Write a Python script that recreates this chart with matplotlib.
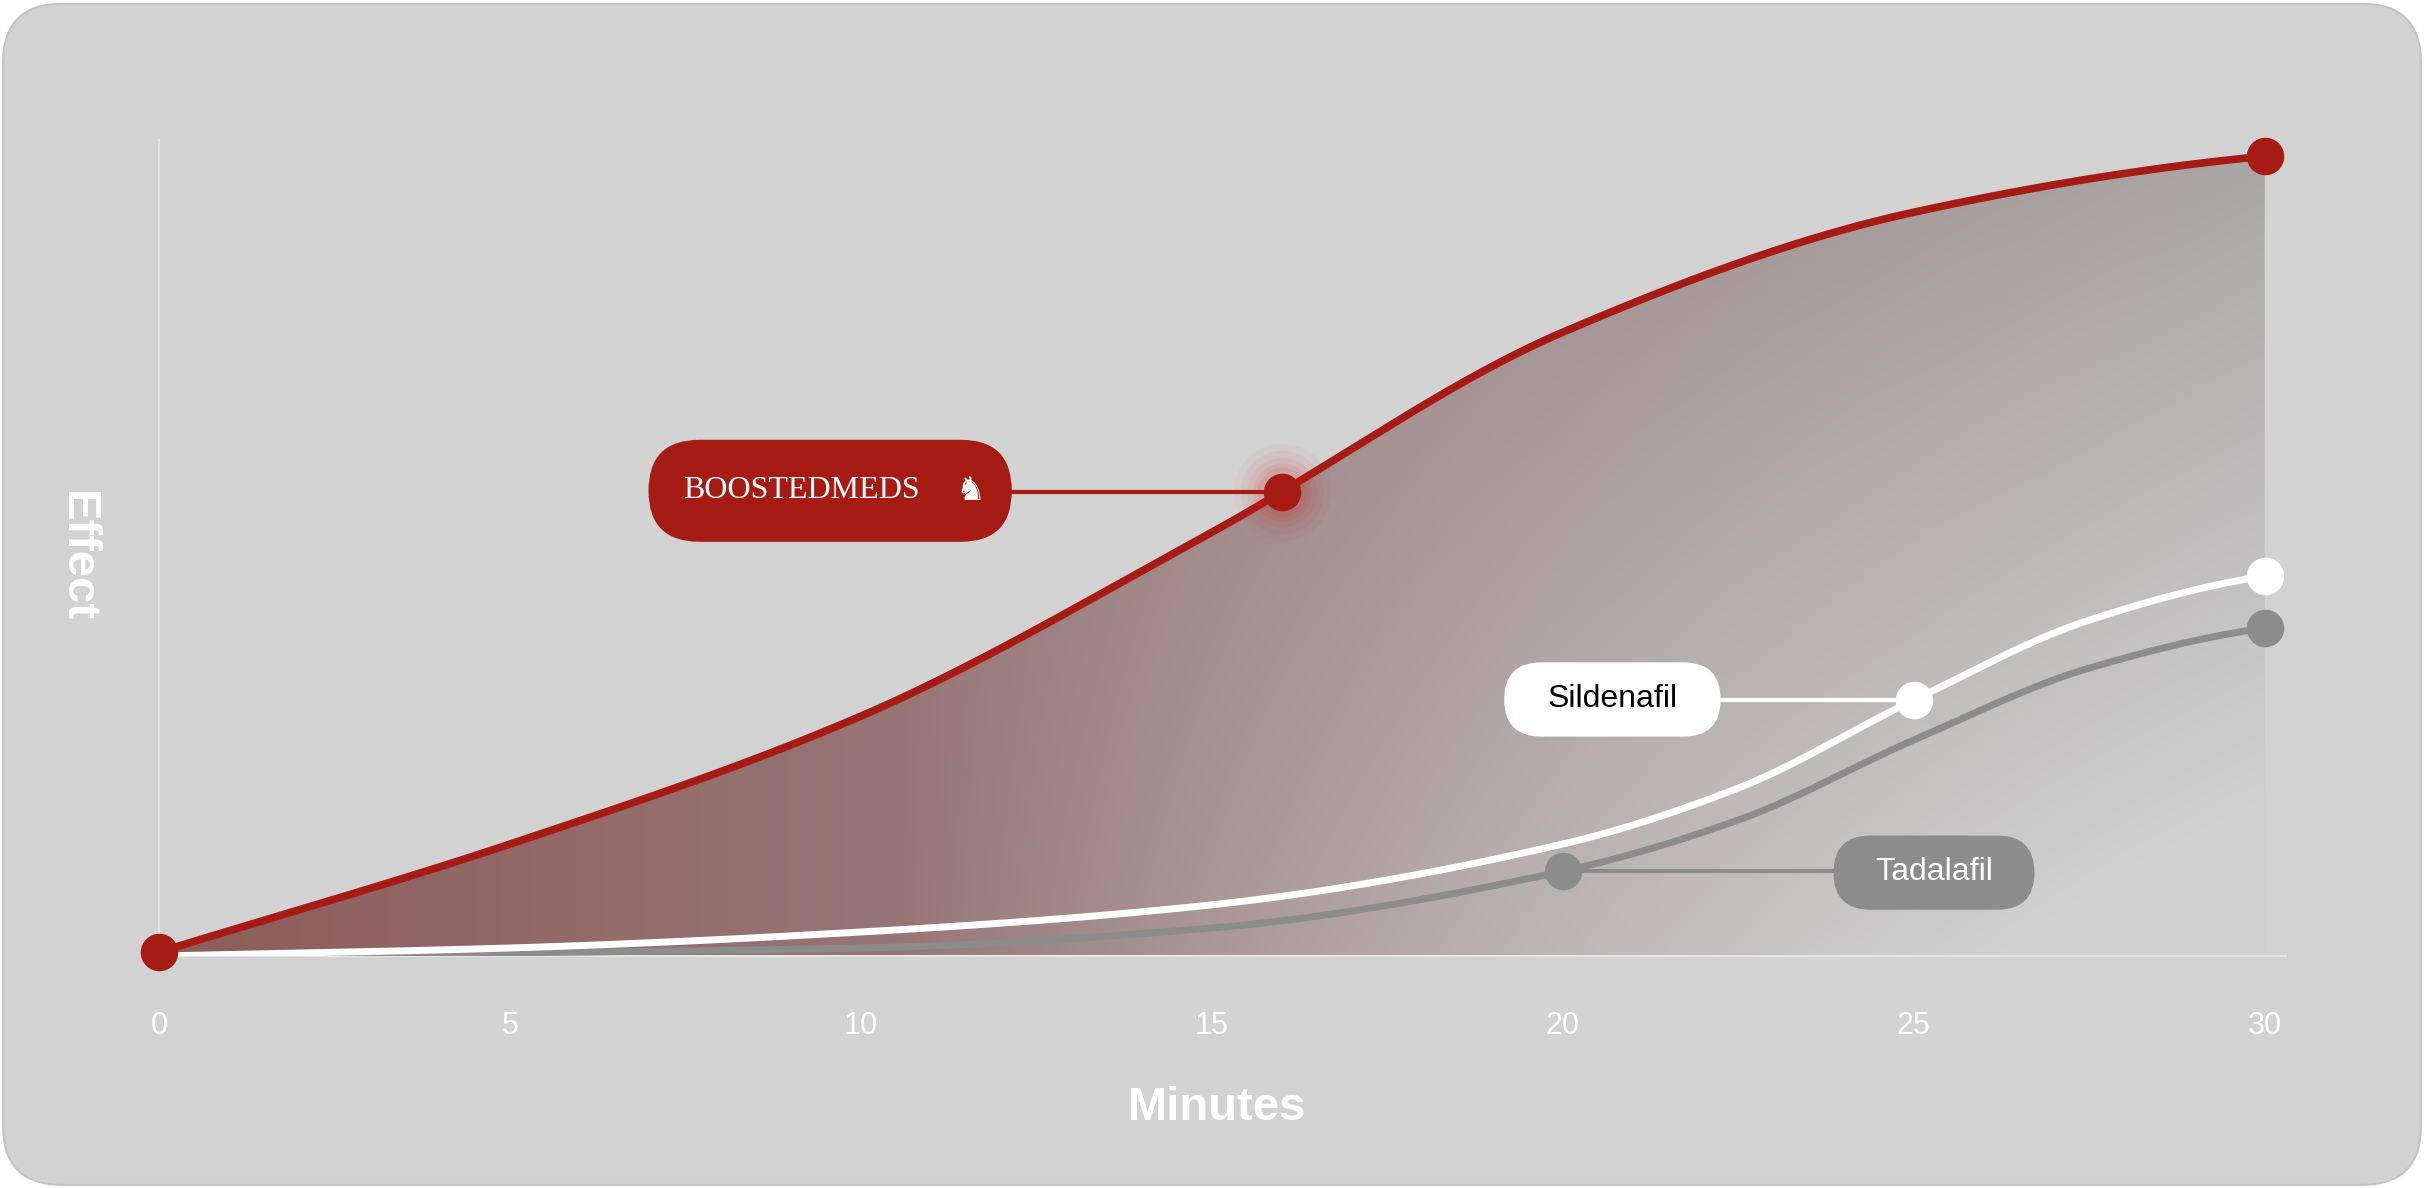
import numpy as np
import matplotlib
matplotlib.use("Agg")
import matplotlib.pyplot as plt
from matplotlib.patches import FancyBboxPatch, Polygon
from matplotlib.transforms import IdentityTransform

minutes = [0, 5, 10, 15, 20, 25, 30]
boosted = [0.5, 14, 30, 53, 78, 93, 100]
sil_x = [0, 5, 10, 15, 20, 22.5, 25, 27.5, 30]
sildenafil = [0, 1, 3, 6.4, 14, 21, 32, 42, 47.5]
tad_x = [0, 10, 15, 20, 22.5, 25, 27.5, 30]
tadalafil = [0, 1, 3.5, 10.6, 17, 27, 36, 41]
xticks = [0, 5, 10, 15, 20, 25, 30]

def pchip(x, y, xn):
    x = np.asarray(x, float); y = np.asarray(y, float)
    h = np.diff(x); d = np.diff(y) / h
    m = np.zeros_like(y)
    for k in range(1, len(x) - 1):
        if d[k-1] * d[k] > 0:
            w1 = 2*h[k] + h[k-1]; w2 = h[k] + 2*h[k-1]
            m[k] = (w1 + w2) / (w1/d[k-1] + w2/d[k])
    m[0] = d[0]; m[-1] = d[-1] * 0.6
    out = np.empty_like(xn)
    for i, xv in enumerate(xn):
        k = min(np.searchsorted(x, xv, side='right') - 1, len(x) - 2)
        t = (xv - x[k]) / h[k]
        h00 = 2*t**3 - 3*t**2 + 1; h10 = t**3 - 2*t**2 + t
        h01 = -2*t**3 + 3*t**2; h11 = t**3 - t**2
        out[i] = h00*y[k] + h10*h[k]*m[k] + h01*y[k+1] + h11*h[k]*m[k+1]
    return out

W_PX, H_PX = 2424, 1188
S = W_PX / 1568
fig = plt.figure(figsize=(24.24, 11.88), dpi=100)
fig.patch.set_facecolor('white')

def rbox(x0, y0_top, w, h, r, fc, ec='none', lw=0, z=10):
    # coordinates in reference-display pixels (1568x768, y from top)
    p = FancyBboxPatch((x0*S, (768 - y0_top - h)*S), w*S, h*S,
                       boxstyle=f"round,pad=0,rounding_size={r*S}", transform=IdentityTransform(),
                       facecolor=fc, edgecolor=ec, lw=lw, zorder=z)
    fig.patches.append(p)

rbox(2, 2, 1564, 764, 38, '#d2d2d2', ec='#c4c4c4', lw=1.5, z=-10)

ax = fig.add_axes([0.0657, 0.1953, 0.8686, 0.6732])
ax.set_zorder(1)
ax.patch.set_alpha(0)
ax.set_xlim(0, 30); ax.set_ylim(0, 100)
ax.axis('off')

xs = np.linspace(0, 30, 400)
rb = pchip(minutes, boosted, xs)
sw = pchip(sil_x, sildenafil, xs)
tg = pchip(tad_x, tadalafil, xs)

H, W = 300, 600
gx, gy = np.meshgrid(np.linspace(0, 1, W), np.linspace(1, 0, H))
c_left = np.array([0x8c, 0x5c, 0x5a]) / 255
c_tr = np.array([0xaa, 0xa6, 0xa6]) / 255
c_br = np.array([0xd0, 0xd0, 0xd0]) / 255
t1 = np.clip(gx, 0, 1)[..., None]
base = c_left * (1 - t1) + c_tr * t1
t2 = np.clip((gx - 0.35) * 1.2 * (1 - gy) * 1.6, 0, 1)[..., None]
img = base * (1 - t2) + c_br * t2
im = ax.imshow(img, extent=[0, 30, 0, 100], aspect='auto', zorder=1)
poly = Polygon(np.vstack([np.c_[xs, rb], [[30, 0], [0, 0]]]), transform=ax.transData, facecolor='none', edgecolor='none')
ax.add_patch(poly)
im.set_clip_path(poly)

ax.plot([0, 0], [0, 102], color='#e6e6e6', lw=1.5, zorder=2, clip_on=False)
ax.plot([0, 30.3], [0, 0], color='#e6e6e6', lw=1.5, zorder=2, clip_on=False)

ax.plot(xs, tg, color='#8c8c8c', lw=5, zorder=3, solid_capstyle='round')
ax.plot(xs, sw, color='white', lw=5, zorder=4, solid_capstyle='round')
ax.plot(xs, rb, color='#a61c14', lw=5.5, zorder=5, solid_capstyle='round', clip_on=False)

ms = 26
ax.plot([0], [boosted[0]], 'o', color='#a61c14', ms=ms, zorder=6, clip_on=False)
ax.plot([30], [boosted[-1]], 'o', color='#a61c14', ms=ms, zorder=6, clip_on=False)
ax.plot([30], [sildenafil[-1]], 'o', color='white', ms=ms, zorder=6, clip_on=False)
ax.plot([30], [tadalafil[-1]], 'o', color='#8c8c8c', ms=ms, zorder=6, clip_on=False)

def yat(arr, x):
    return float(np.interp(x, xs, arr))

bx, by = 16, yat(rb, 16)
for r, a in [(70, 0.04), (60, 0.05), (50, 0.06), (42, 0.07), (36, 0.08)]:
    ax.plot([bx], [by], 'o', color='#d02020', ms=r, alpha=a, mec='none', zorder=6)
ax.plot([bx], [by], 'o', color='#a61c14', ms=ms, zorder=7)
ax.plot([12, bx], [by, by], color='#a61c14', lw=3, zorder=6)

sx, sy = 25, yat(sw, 25)
ax.plot([sx], [sy], 'o', color='white', ms=ms, zorder=7)
ax.plot([21, sx], [sy, sy], color='white', lw=3, zorder=6)

tx, ty = 20, yat(tg, 20)
ax.plot([tx], [ty], 'o', color='#8c8c8c', ms=ms, zorder=7)
ax.plot([tx, 24], [ty, ty], color='#8c8c8c', lw=3, zorder=6)

def pill(cx, cy, w, h, fc):
    rbox(cx - w/2, cy - h/2, w, h, h/2, fc, z=10)
    return cx/1568, 1 - cy/768

px, py = pill(537, 317, 235, 66, '#a61c14')
fig.text(px - 0.012, py, 'BOOSTEDMEDS', family='Liberation Serif', fontsize=23, color='white',
         ha='center', va='center', zorder=11)
fig.text(px + 0.058, py, '♞', family='DejaVu Sans', fontsize=24, color='white', ha='center', va='center', zorder=11)
px, py = pill(1043, 452, 140, 48, 'white')
fig.text(px, py, 'Sildenafil', family='Liberation Sans', fontsize=23, color='black', ha='center', va='center', zorder=11)
px, py = pill(1251, 564, 130, 48, '#8c8c8c')
fig.text(px, py, 'Tadalafil', family='Liberation Sans', fontsize=23, color='white', ha='center', va='center', zorder=11)

for t in xticks:
    ax.text(t, -8.7, str(t), ha='center', va='center', fontsize=22, color='white', family='Liberation Sans')
fig.text(787/1568, 1 - 716/768, 'Minutes', ha='center', va='center', fontsize=34, color='white',
         fontweight='bold', family='Liberation Sans')
fig.text(50/1568, 1 - 360/768, 'Effect', ha='center', va='center', fontsize=34, color='white',
         fontweight='bold', family='Liberation Sans', rotation=-90)

fig.savefig('out.png', dpi=100, facecolor='white')
